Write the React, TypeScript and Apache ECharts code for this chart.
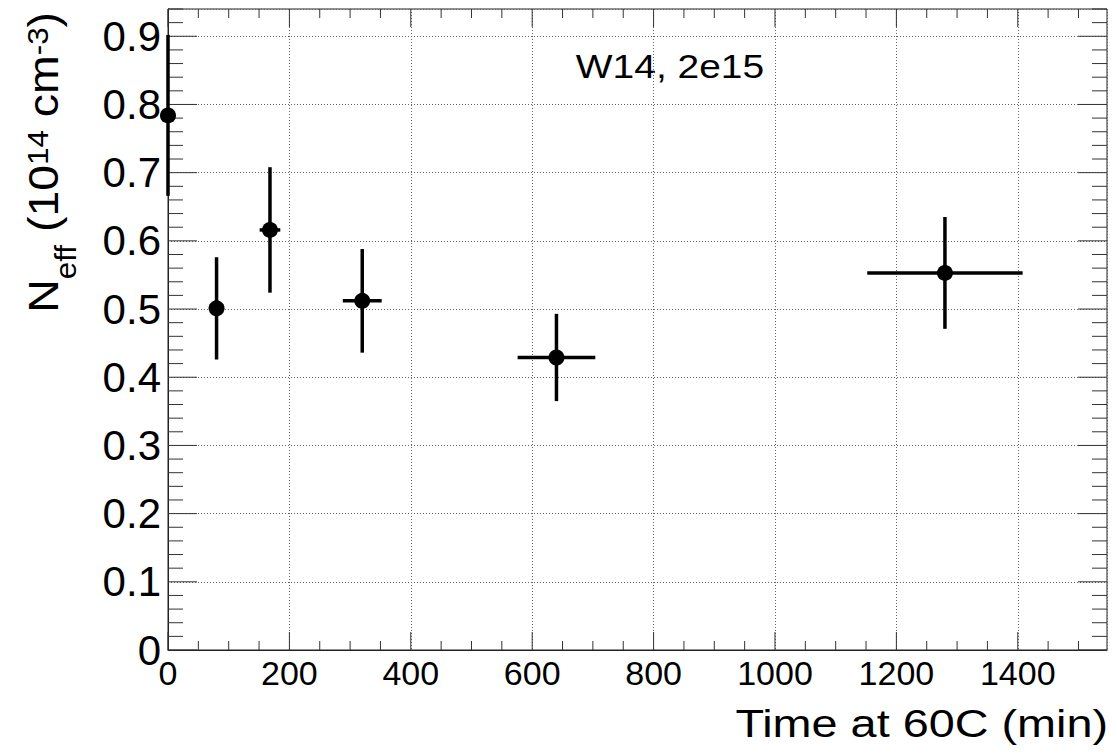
import React, { useEffect, useRef } from "react";
import * as echarts from "echarts";

// ---- data ----
const times = [0, 80, 168, 320, 640, 1280];
const neff = [0.784, 0.501, 0.616, 0.512, 0.429, 0.553];
const timeErr = [0, 8, 17, 32, 64, 128];
const neffErr = [0.118, 0.075, 0.092, 0.076, 0.064, 0.082];

const X_MIN = 0;
const X_MAX = 1547;
const Y_MIN = 0;
const Y_MAX = 0.94;
const X_MAJOR = 200;
const X_MINOR = 50;
const Y_MAJOR = 0.1;
const Y_MINOR = 0.02;

const titleText = "W14, 2e15";
const xTitle = "Time at 60C (min)";

const FONT = "'Liberation Sans', Arial, Helvetica, sans-serif";

function tickValues(step: number, max: number): number[] {
  const out: number[] = [];
  for (let i = 0; i * step <= max + 1e-9; i++) out.push(+(i * step).toFixed(6));
  return out;
}

export default function App() {
  const ref = useRef<HTMLDivElement>(null);

  useEffect(() => {
    if (!ref.current) return;
    const chart = echarts.init(ref.current, null, { renderer: "svg" });

    const xTicks = tickValues(X_MINOR, X_MAX);
    const yTicks = tickValues(Y_MINOR, Y_MAX);

    const errData = times.map((t, i) => [t, neff[i], timeErr[i], neffErr[i]]);
    const pts = times.map((t, i) => [t, neff[i]]);

    const tickColor = "#333";

    const option: any = {
      animation: false,
      backgroundColor: "#fff",
      grid: {
        left: 168,
        right: 10,
        top: 9,
        bottom: 104,
        show: true,
        borderColor: "#222",
        borderWidth: 1,
        backgroundColor: "transparent",
      },
      xAxis: {
        type: "value",
        min: X_MIN,
        max: X_MAX,
        interval: X_MAJOR,
        axisLine: { show: true, lineStyle: { color: "#222", width: 1 } },
        axisTick: { show: false },
        axisLabel: {
          show: true,
          fontSize: 34,
          color: "#000",
          fontFamily: FONT,
          margin: 6,
          showMaxLabel: false,
          formatter: (v: number) => String(v),
        },
        splitLine: { show: true, lineStyle: { color: "#666", type: [1, 2], width: 1 } },
      },
      yAxis: {
        type: "value",
        min: Y_MIN,
        max: Y_MAX,
        interval: Y_MAJOR,
        axisLine: { show: true, lineStyle: { color: "#222", width: 1 } },
        axisTick: { show: false },
        axisLabel: {
          show: true,
          fontSize: 42,
          color: "#000",
          fontFamily: FONT,
          margin: 7,
          showMaxLabel: false,
          formatter: (v: number) => String(+v.toFixed(2)),
        },
        splitLine: { show: true, lineStyle: { color: "#666", type: [1, 2], width: 1 } },
      },
      graphic: [
        {
          type: "text",
          x: 670,
          y: 67,
          scaleX: 1.18,
          style: {
            text: titleText,
            fontSize: 33,
            fontFamily: FONT,
            fill: "#000",
            align: "center",
            verticalAlign: "middle",
          },
        },
        {
          type: "text",
          x: 1108,
          y: 723,
          scaleX: 1.2,
          style: {
            text: xTitle,
            fontSize: 39,
            fontFamily: FONT,
            fill: "#000",
            align: "right",
            verticalAlign: "middle",
          },
        },
        {
          type: "text",
          x: 43,
          y: 12,
          rotation: Math.PI / 2,
          scaleX: 1.08,
          style: {
            text: "{m|N}{sub|eff}{m| (10}{sup|14}{m| cm}{sup|-3}{m|)}",
            fill: "#000",
            align: "right",
            verticalAlign: "middle",
            rich: {
              m: { fontSize: 43, fontFamily: FONT, fill: "#000", lineHeight: 44 },
              sub: {
                fontSize: 29,
                fontFamily: FONT,
                fill: "#000",
                lineHeight: 30,
                padding: [46, 0, 0, 0],
              },
              sup: {
                fontSize: 29,
                fontFamily: FONT,
                fill: "#000",
                lineHeight: 30,
                padding: [0, 0, 10, 0],
              },
            },
          },
        },
      ],
      series: [
        {
          type: "custom",
          name: "ticks",
          silent: true,
          clip: false,
          data: [[X_MIN, Y_MIN]],
          encode: { x: 0, y: 1 },
          z: 1,
          renderItem: (params: any, api: any) => {
            const cs = params.coordSys;
            const left = cs.x;
            const right = cs.x + cs.width;
            const top = cs.y;
            const bottom = cs.y + cs.height;
            const children: any[] = [];
            const seg = (x1: number, y1: number, x2: number, y2: number) =>
              children.push({
                type: "line",
                shape: { x1, y1, x2, y2 },
                style: { stroke: tickColor, lineWidth: 1 },
              });
            xTicks.forEach((v) => {
              const isMajor = Math.abs(v / X_MAJOR - Math.round(v / X_MAJOR)) < 1e-6;
              const len = isMajor ? 18 : 9;
              const px = api.coord([v, Y_MIN])[0];
              seg(px, bottom, px, bottom - len);
              seg(px, top, px, top + len);
            });
            yTicks.forEach((v) => {
              const isMajor = Math.abs(v / Y_MAJOR - Math.round(v / Y_MAJOR)) < 1e-6;
              const len = isMajor ? 29 : 15;
              const py = api.coord([X_MIN, v])[1];
              seg(left, py, left + len, py);
              seg(right, py, right - len, py);
            });
            return { type: "group", children };
          },
        },
        {
          type: "custom",
          name: "errors",
          clip: false,
          data: errData,
          encode: { x: 0, y: 1 },
          z: 5,
          renderItem: (params: any, api: any) => {
            const x = api.value(0);
            const y = api.value(1);
            const xe = api.value(2);
            const ye = api.value(3);
            const pTop = api.coord([x, y + ye]);
            const pBot = api.coord([x, y - ye]);
            const pL = api.coord([x - xe, y]);
            const pR = api.coord([x + xe, y]);
            const style = { stroke: "#000", lineWidth: 3.5 };
            return {
              type: "group",
              children: [
                { type: "line", shape: { x1: pTop[0], y1: pTop[1], x2: pBot[0], y2: pBot[1] }, style },
                { type: "line", shape: { x1: pL[0], y1: pL[1], x2: pR[0], y2: pR[1] }, style },
              ],
            };
          },
        },
        {
          type: "scatter",
          name: "Neff",
          data: pts,
          symbol: "circle",
          symbolSize: 16,
          clip: false,
          z: 6,
          itemStyle: { color: "#000", opacity: 1 },
        },
      ],
    };

    chart.setOption(option);
    return () => chart.dispose();
  }, []);

  return (
    <div
      ref={ref}
      style={{ position: "absolute", left: 0, top: 0, width: 1117, height: 754 }}
    />
  );
}
